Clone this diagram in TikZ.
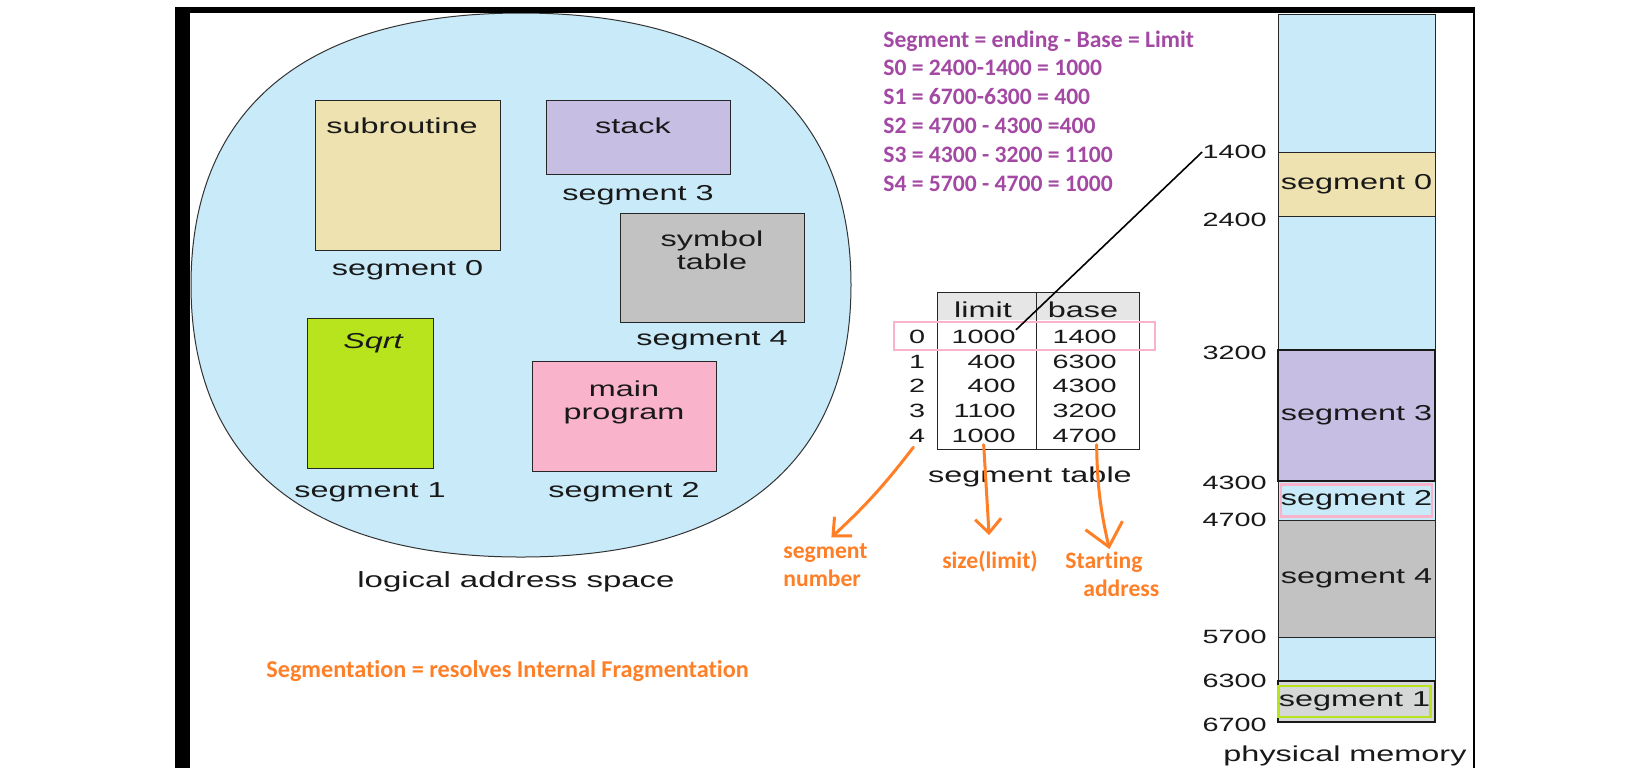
\documentclass[tikz,border=0pt]{standalone}
\usepackage{fontspec}
\setmainfont{Liberation Sans}[FakeStretch=1.5]
\newfontfamily\notefont{Carlito}[Ligatures=NoCommon]
\usetikzlibrary{positioning,arrows.meta}

\definecolor{sky}{RGB}{200,234,249}
\definecolor{segwheat}{RGB}{238,227,176}
\definecolor{seglav}{RGB}{199,191,227}
\definecolor{seggray}{RGB}{194,194,194}
\definecolor{seglime}{RGB}{184,228,30}
\definecolor{segrose}{RGB}{249,179,203}
\definecolor{pebble}{RGB}{214,216,216}
\definecolor{headgray}{RGB}{230,230,230}
\definecolor{marker}{RGB}{255,127,39}
\definecolor{plum}{RGB}{163,73,164}

\tikzset{
  seg/.style={draw=black!85, line width=0.5pt, inner sep=0pt, outer sep=0pt},
  txt/.style={inner sep=0pt, text=black!90, font=\fontsize{10.8}{11.5}\selectfont},
  num/.style={inner sep=0pt, text=black!90, font=\fontsize{9.6}{11}\selectfont},
  note/.style={inner sep=0pt, font=\notefont\bfseries\fontsize{11.8}{14.4}\selectfont},
  memblock/.style={seg, minimum width=78.5pt, text=black!90, font=\fontsize{10.8}{12}\selectfont},
  pen/.style={draw=marker, line width=1.5pt, line cap=round, -{Straight Barb[length=7pt,width=13pt]}},
}

\begin{document}
\begin{tikzpicture}[x=0.5pt,y=-0.5pt]
\useasboundingbox (0,0) rectangle (1634,768);
\fill[white] (0,0) rectangle (1634,768);

\filldraw[fill=sky, draw=black!80, line width=0.5pt]
  (191,285) .. controls (191,108) and (306,13) .. (521,13)
            .. controls (736,13) and (851,108) .. (851,285)
            .. controls (851,462) and (736,557) .. (521,557)
            .. controls (306,557) and (191,462) .. (191,285) -- cycle;

\node[seg, fill=segwheat, minimum width=92.5pt, minimum height=75pt] (S0) at (407.5,175) {};
\node[seg, fill=seglav,   minimum width=92pt,   minimum height=37pt] (S3) at (638,137) {};
\node[seg, fill=seggray,  minimum width=92pt,   minimum height=54.5pt] (S4) at (712,267.5) {};
\node[seg, fill=seglime,  minimum width=63pt,   minimum height=75pt] (S1) at (370,393) {};
\node[seg, fill=segrose,  minimum width=92pt,   minimum height=55pt] (S2) at (624,416) {};

\node[txt, below=8.5pt of S0.north, xshift=-2.75pt] {subroutine};
\node[txt, below=8.5pt of S3.north, xshift=-2.5pt] {stack};
\node[txt, below=8.5pt of S4.north, align=center] {symbol\\table};
\node[txt, below=7.5pt of S1.north, xshift=1.5pt] {\itshape Sqrt};
\node[txt, below=9.5pt of S2.north, align=center] {main\\program};

\node[txt, below=5pt of S0]   (Lab0) {segment 0};
\node[txt, below=5.5pt of S3] (Lab3) {segment 3};
\node[txt, below=4pt of S4]   (Lab4) {segment 4};
\node[txt, below=7pt of S1]   (Lab1) {segment 1};
\node[txt, below=5.5pt of S2] (Lab2) {segment 2};
\node[txt, anchor=north, font=\fontsize{11}{13}\selectfont] (las) at (516,571) {logical address space};

\node[note, text=plum, anchor=base west] (C0) at (883,47) {Segment = ending - Base = Limit};
\node[note, text=plum, anchor=base west] (C1) at ([yshift=-14.4pt]C0.base west) {S0 = 2400-1400 = 1000};
\node[note, text=plum, anchor=base west] (C2) at ([yshift=-14.4pt]C1.base west) {S1 = 6700-6300 = 400};
\node[note, text=plum, anchor=base west] (C3) at ([yshift=-14.4pt]C2.base west) {S2 = 4700 - 4300 =400};
\node[note, text=plum, anchor=base west] (C4) at ([yshift=-14.4pt]C3.base west) {S3 = 4300 - 3200 = 1100};
\node[note, text=plum, anchor=base west] (C5) at ([yshift=-14.4pt]C4.base west) {S4 = 5700 - 4700 = 1000};

\node[seg, draw=none, fill=headgray, minimum width=101pt, minimum height=14pt, anchor=north west] (TH) at (937,292) {};
\node[seg, minimum width=101pt, minimum height=78.5pt, anchor=north west] (T) at (937,292) {};
\draw[line width=0.5pt, black!85] ([xshift=-1pt]T.north) -- ([xshift=-1pt]T.south);
\node[txt, anchor=base] (Hlim)  at (983,317)  {limit};
\node[txt, anchor=base] (Hbase) at (1083,317) {base};

\node[num] (R0) at (917,337) {0};
\node[num] (R1) at (917,361.5) {1};
\node[num] (R2) at (917,386) {2};
\node[num] (R3) at (917,410.5) {3};
\node[num] (R4) at (917,435.5) {4};
\node[num, anchor=east] (Lim0) at (1016,337) {1000};
\node[num, anchor=east] (Lim1) at (1016,361.5) {400};
\node[num, anchor=east] (Lim2) at (1016,386) {400};
\node[num, anchor=east] (Lim3) at (1016,410.5) {1100};
\node[num, anchor=east] (Lim4) at (1016,435.5) {1000};
\node[num, anchor=east] (Base0) at (1117,337) {1400};
\node[num, anchor=east] (Base1) at (1117,361.5) {6300};
\node[num, anchor=east] (Base2) at (1117,386) {4300};
\node[num, anchor=east] (Base3) at (1117,410.5) {3200};
\node[num, anchor=east] (Base4) at (1117,435.5) {4700};
\node[seg, draw=segrose, line width=1.1pt, minimum width=130.5pt, minimum height=14pt] (Hl) at (1024.5,336) {};
\node[txt, below=8.5pt of T.south, xshift=-4pt] (Tcap) {segment table};

\node[memblock, fill=sky, minimum height=69pt, anchor=north] (Free0) at (1356.5,14) {};
\node[memblock, fill=segwheat, minimum height=32pt, below=0pt of Free0] (Mem0) {segment 0};
\node[memblock, fill=sky, minimum height=67pt, below=0pt of Mem0] (Free1) {};
\node[memblock, fill=seglav, minimum height=65.5pt, below=0pt of Free1] (Mem3) {segment 3};
\node[memblock, fill=sky, minimum height=19.5pt, below=0pt of Mem3] (Mem2) {};
\node[memblock, fill=seggray, minimum height=58.5pt, below=0pt of Mem2] (Mem4) {segment 4};
\node[memblock, fill=sky, minimum height=22pt, below=0pt of Mem4] (Free2) {};
\node[memblock, fill=pebble, minimum height=20.5pt, below=0pt of Free2] (Mem1) {};
\draw[line width=1.2pt, black!90] (Mem3.north west) rectangle (Mem3.south east);
\draw[line width=1.2pt, black!90] (Mem1.north west) rectangle (Mem1.south east);
\node[memblock, draw=segrose, line width=1.2pt, minimum width=75pt, minimum height=16pt] (In2) at (Mem2) {segment 2};
\node[memblock, draw=seglime, line width=1.4pt, minimum width=74.5pt, minimum height=15.5pt] (In1) at ([xshift=-1pt]Mem1.center) {segment 1};
\node[txt, below=11.5pt of Mem1, xshift=-5.75pt] (Phys) {physical memory};

\node[num, left=5.5pt of Free0.south west] (A1400) {1400};
\node[num, left=5.5pt of Mem0.south west, yshift=-2pt] (A2400) {2400};
\node[num, left=5.5pt of Free1.south west, yshift=-1.5pt] (A3200) {3200};
\node[num, left=5.5pt of Mem3.south west, yshift=-1pt] (A4300) {4300};
\node[num, left=5.5pt of Mem2.south west] (A4700) {4700};
\node[num, left=5.5pt of Mem4.south west] (A5700) {5700};
\node[num, left=5.5pt of Free2.south west] (A6300) {6300};
\node[num, left=5.5pt of Mem1.south west, yshift=-1.5pt] (A6700) {6700};

\draw[line width=0.8pt] (Lim0.north east) -- (A1400.west);

\node[note, text=marker, anchor=base west] (Snum)  at (783,558) {segment};
\node[note, text=marker, anchor=base west] (Snum2) at ([yshift=-14.4pt]Snum.base west) {number};
\node[note, text=marker, anchor=base] (Size) at (990,568) {size(limit)};
\node[note, text=marker, anchor=base west] (Start)  at (1065,568) {Starting};
\node[note, text=marker, anchor=base west] (Start2) at ([xshift=9pt,yshift=-14.4pt]Start.base west) {address};
\node[note, text=marker, anchor=base west, font=\notefont\bfseries\fontsize{12.1}{14.4}\selectfont] (Res) at (266,677) {Segmentation = resolves Internal Fragmentation};

\draw[pen, shorten <=3pt, shorten >=4pt] (R4.south) to[bend left=5] (Snum.north);
\draw[pen, shorten <=1pt, shorten >=7.5pt] (Lim4.south) -- (Size.north);
\draw[pen, -{Straight Barb[length=11pt,width=19pt]}, shorten <=1pt, shorten >=1pt] ([xshift=6pt]Base4.south) to[bend right=6] ([xshift=3pt]Start.north);

\fill[black] (175,7) rectangle (190,768);
\fill[black] (175,7) rectangle (1475,13);
\draw[line width=0.9pt] (1474,13) -- (1474,768);
\end{tikzpicture}
\end{document}
